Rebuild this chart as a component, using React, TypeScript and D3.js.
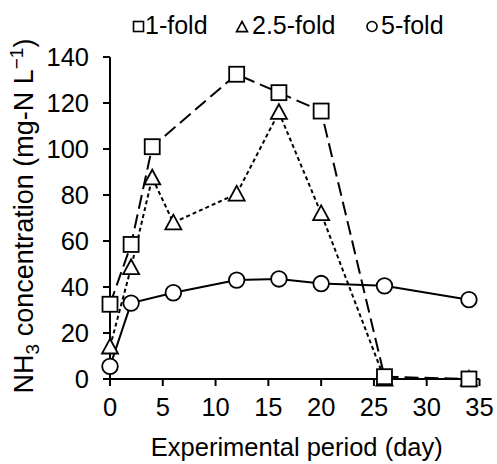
import React from "react";
import * as d3 from "d3";

// Sampling days and NH3 concentrations (mg-N/L) for each dilution level
const days = [0, 2, 4, 12, 16, 20, 26, 34];
const fold1 = [32.5, 58.5, 101, 132.5, 124.5, 116.5, 1, 0];

const days25 = [0, 2, 4, 6, 12, 16, 20, 26, 34];
const fold25 = [14, 48.5, 87.5, 68, 80.5, 116, 72, 0, 0];

const days5 = [0, 2, 6, 12, 16, 20, 26, 34];
const fold5 = [5.5, 33, 37.5, 43, 43.5, 41.5, 40.5, 34.5];

const xTicks = [0, 5, 10, 15, 20, 25, 30, 35];
const yTicks = [0, 20, 40, 60, 80, 100, 120, 140];
const legendLabels = ["1-fold", "2.5-fold", "5-fold"];

const W = 497;
const H = 464;
const FONT = "'Liberation Sans', Arial, sans-serif";

export default function App() {
  const x = d3.scaleLinear().domain([0, 35]).range([110, 479.5]);
  const y = d3.scaleLinear().domain([0, 140]).range([379, 57]);

  const line = d3
    .line<[number, number]>()
    .x((d) => x(d[0]))
    .y((d) => y(d[1]));

  const s1: [number, number][] = days.map((d, i) => [d, fold1[i]]);
  const s25: [number, number][] = days25.map((d, i) => [d, fold25[i]]);
  const s5: [number, number][] = days5.map((d, i) => [d, fold5[i]]);

  const sq = 15;
  const tri = (cx: number, cy: number, s = 16) =>
    `M${cx},${cy - s * 0.5} L${cx + s * 0.5},${cy + s * 0.42} L${cx - s * 0.5},${cy + s * 0.42} Z`;

  return (
    <svg
      width={W}
      height={H}
      style={{ position: "absolute", left: 0, top: 0, background: "#fff" }}
      fontFamily={FONT}
    >
      {/* axes */}
      <line x1={x(0)} x2={x(35)} y1={y(0)} y2={y(0)} stroke="#000" strokeWidth={2} />
      <line x1={x(0)} x2={x(0)} y1={y(0)} y2={y(140)} stroke="#000" strokeWidth={2} />
      {xTicks.map((t) => (
        <g key={"xt" + t}>
          <line x1={x(t)} x2={x(t)} y1={y(0)} y2={y(0) + 7} stroke="#000" strokeWidth={2} />
          <text x={x(t)} y={416} fontSize={25.5} textAnchor="middle">
            {t}
          </text>
        </g>
      ))}
      {yTicks.map((t) => (
        <g key={"yt" + t}>
          <line x1={x(0) - 7} x2={x(0)} y1={y(t)} y2={y(t)} stroke="#000" strokeWidth={2} />
          <text x={89} y={y(t) + 9} fontSize={25.5} textAnchor="end">
            {t}
          </text>
        </g>
      ))}

      {/* axis titles */}
      <text x={(x(0) + x(35)) / 2 + 2} y={456} fontSize={25.5} textAnchor="middle">
        Experimental period (day)
      </text>
      <text
        transform={`translate(33,216) rotate(-90)`}
        fontSize={27}
        textAnchor="middle"
      >
        NH
        <tspan fontSize={19} dy={6}>3</tspan>
        <tspan dy={-6}> concentration (mg-N L</tspan>
        <tspan fontSize={19} dy={-10}>−1</tspan>
        <tspan dy={10}>)</tspan>
      </text>

      {/* 5-fold: solid line, circles */}
      <path d={line(s5) ?? ""} fill="none" stroke="#000" strokeWidth={2} />
      {s5.map((d, i) => (
        <circle key={"c" + i} cx={x(d[0])} cy={y(d[1])} r={7.8} fill="#fff" stroke="#000" strokeWidth={1.8} />
      ))}

      {/* 2.5-fold: short dashes, triangles */}
      <path d={line(s25) ?? ""} fill="none" stroke="#000" strokeWidth={2} strokeDasharray="4 3" />
      {s25.map((d, i) => (
        <path key={"t" + i} d={tri(x(d[0]), y(d[1]))} fill="#fff" stroke="#000" strokeWidth={1.8} />
      ))}

      {/* 1-fold: long dashes, squares */}
      <path d={line(s1) ?? ""} fill="none" stroke="#000" strokeWidth={2} strokeDasharray="14 6" />
      {s1.map((d, i) => (
        <rect
          key={"s" + i}
          x={x(d[0]) - sq / 2}
          y={y(d[1]) - sq / 2}
          width={sq}
          height={sq}
          fill="#fff"
          stroke="#000"
          strokeWidth={1.8}
        />
      ))}

      {/* legend */}
      <rect x={133.5} y={21.5} width={10} height={10} fill="#fff" stroke="#000" strokeWidth={1.6} />
      <text x={145} y={33.5} fontSize={25}>{legendLabels[0]}</text>
      <path d={tri(242, 27, 11)} fill="#fff" stroke="#000" strokeWidth={1.6} />
      <text x={252} y={33.5} fontSize={25}>{legendLabels[1]}</text>
      <circle cx={372} cy={26.5} r={5} fill="#fff" stroke="#000" strokeWidth={1.6} />
      <text x={381} y={33.5} fontSize={25}>{legendLabels[2]}</text>
    </svg>
  );
}
